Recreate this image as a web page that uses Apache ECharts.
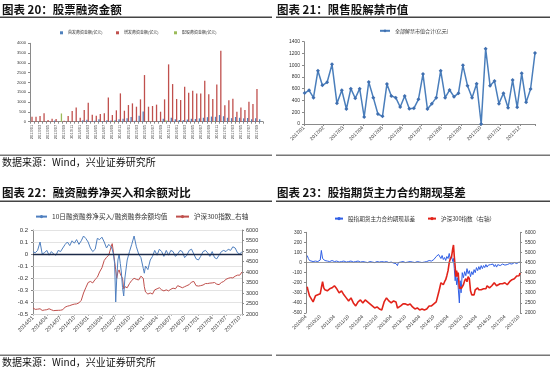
<!DOCTYPE html>
<html><head><meta charset="utf-8">
<script src="https://cdn.jsdelivr.net/npm/echarts@6/dist/echarts.min.js"></script>
<style>
html,body{margin:0;padding:0;background:#fff}
#wrap{position:relative;width:550px;height:371px}
#c{position:absolute;left:0;top:0;width:550px;height:371px}
#c21{position:absolute;left:275px;top:20px;width:275px;height:132px}
</style>
</head><body><div id="wrap"><div id="c"></div><div id="c21"></div></div>
<script>
// ---------- 图表20 股票融资金额 (monthly bars) ----------
const barCategories = ['2013/01','2013/02','2013/03','2013/04','2013/05','2013/06','2013/07','2013/08','2013/09','2013/10','2013/11','2013/12',
'2014/01','2014/02','2014/03','2014/04','2014/05','2014/06','2014/07','2014/08','2014/09','2014/10','2014/11','2014/12',
'2015/01','2015/02','2015/03','2015/04','2015/05','2015/06','2015/07','2015/08','2015/09','2015/10','2015/11','2015/12',
'2016/01','2016/02','2016/03','2016/04','2016/05','2016/06','2016/07','2016/08','2016/09','2016/10','2016/11','2016/12',
'2017/01','2017/02','2017/03','2017/04','2017/05','2017/06','2017/07','2017/08','2017/09','2017/10'];
const ipoAmount = [0,0,0,0,0,0,60,0,0,0,0,0, 20,80,100,30,50,120,30,70,60,70,130,150, 170,240,50,300,520,0,0,0,20,150,50,200, 120,90,80,110,150,140,170,200,230,260,250,340, 280,200,180,240,200,170,190,130,170,120];
const seoAmount = [255,255,290,425,85,150,135,0,50,290, 545,730,200,595,970,355,305,390,425,1240, 340,580,1445,560,850,935,765,1140,2380,765, 800,870,510,1140,2925,1920,1160,1105,1785,1480, 1580,1445,1445,2090,1395,1160,1900,3625,835,1090, 1175,510,730,595,1020,900,1665,0];
const rightsAmount = [0,0,0,0,0,0,0,420,0,0,0,0, 0,0,0,0,0,0,0,0,30,0,0,0, 0,0,0,0,0,0,0,0,0,60,0,0, 0,0,0,0,0,0,0,0,0,40,0,0, 0,0,20,0,0,0,0,0,0,0];

// ---------- 图表21 限售股解禁市值 (weekly, 2017) ----------
const unlockDates = ['2017-01-02','2017-01-09','2017-01-16','2017-01-23','2017-01-30','2017-02-06','2017-02-13','2017-02-20','2017-02-27',
'2017-03-06','2017-03-13','2017-03-20','2017-03-27','2017-04-03','2017-04-10','2017-04-17','2017-04-24','2017-05-01','2017-05-08','2017-05-15','2017-05-22','2017-05-29',
'2017-06-05','2017-06-12','2017-06-19','2017-06-26','2017-07-03','2017-07-10','2017-07-17','2017-07-24','2017-07-31','2017-08-07','2017-08-14','2017-08-21','2017-08-28',
'2017-09-04','2017-09-11','2017-09-18','2017-09-25','2017-10-02','2017-10-09','2017-10-16','2017-10-23','2017-10-30','2017-11-06','2017-11-13','2017-11-20','2017-11-27',
'2017-12-04','2017-12-11','2017-12-18','2017-12-25'];
const unlockValue = [527,573,448,907,658,709,1015,351,573,255, 601,437,601,119,714,448,170,130,680,476, 448,289,476,261,266,420,850,255,346,448, 907,448,578,465,522,998,652,448,686,0, 1281,652,731,346,522,278,748,283,862,368, 595,1207];

// ---------- 图表22 融资融券净买入和余额对比 ----------
const marginDates = ['2014-01-01','2014-01-16','2014-02-01','2014-02-16','2014-03-01','2014-03-16','2014-04-01','2014-04-16','2014-05-01','2014-05-16','2014-06-01','2014-06-16',
'2014-07-01','2014-07-16','2014-08-01','2014-08-16','2014-09-01','2014-09-16','2014-10-01','2014-10-16','2014-11-01','2014-11-16','2014-12-01','2014-12-16',
'2015-01-01','2015-01-16','2015-02-01','2015-02-16','2015-03-01','2015-03-16','2015-04-01','2015-04-16','2015-05-01','2015-05-16','2015-06-01','2015-06-08','2015-06-16','2015-06-24',
'2015-07-01','2015-07-08','2015-07-16','2015-07-24','2015-08-01','2015-08-08','2015-08-16','2015-08-24','2015-09-01','2015-09-16','2015-10-01','2015-10-16','2015-11-01','2015-11-16','2015-12-01','2015-12-16',
'2016-01-01','2016-01-08','2016-01-16','2016-02-01','2016-02-16','2016-03-01','2016-03-16','2016-04-01','2016-04-16','2016-05-01','2016-05-16','2016-06-01','2016-06-16',
'2016-07-01','2016-07-16','2016-08-01','2016-08-16','2016-09-01','2016-09-16','2016-10-01','2016-10-16','2016-11-01','2016-11-16','2016-12-01','2016-12-16',
'2017-01-01','2017-01-16','2017-02-01','2017-02-16','2017-03-01','2017-03-16','2017-04-01','2017-04-16','2017-05-01','2017-05-16','2017-06-01','2017-06-16',
'2017-07-01','2017-07-16','2017-08-01','2017-08-16','2017-09-01','2017-09-16','2017-10-01','2017-10-16'];
const marginRatio = [0.02,0.01,0.03,0.10,0.00,0.01,0.03,-0.01,0.02,0.00,-0.01,0.03,
0.02,0.05,0.08,0.10,0.07,0.11,0.09,0.12,0.08,0.11,0.15,0.13,
0.10,0.05,0.02,0.04,0.13,0.12,0.14,0.10,0.05,0.08,0.06,0.04,0.00,-0.08,
-0.40,-0.20,-0.05,0.00,-0.08,-0.15,-0.28,-0.35,-0.20,-0.05,0.02,0.08,0.15,0.06,0.00,-0.03,
-0.12,-0.16,-0.10,-0.13,-0.05,-0.02,0.03,-0.01,0.04,0.02,-0.02,0.03,-0.01,
0.03,0.02,-0.02,0.00,0.03,0.02,-0.03,-0.01,0.03,0.04,0.00,-0.04,
-0.05,-0.02,0.02,0.03,0.01,-0.02,0.02,-0.03,-0.04,-0.01,0.02,0.03,
0.02,0.04,0.03,0.06,0.05,0.01,0.00,0.02];
const csi300A = [2290,2220,2230,2250,2170,2190,2205,2250,2200,2160,2170,2175,
2180,2205,2330,2370,2400,2440,2470,2480,2530,2650,3000,3250,
3500,3550,3480,3650,3750,4000,4200,4550,4700,4800,5200,5350,4950,4500,
4100,3700,4000,4100,3900,3950,3700,3200,3300,3250,3450,3600,3700,3650,3620,3800,
3700,3300,3050,2950,3000,2950,3150,3200,3250,3150,3100,3150,3100,
3180,3230,3200,3350,3300,3250,3300,3350,3400,3520,3550,3350,
3330,3350,3380,3450,3450,3470,3480,3500,3420,3400,3500,3550,
3650,3700,3730,3720,3800,3850,3850,4000];

// ---------- 图表23 股指期货主力合约期现基差 ----------
const basisDates = ['2010-04-16','2010-05-01','2010-05-16','2010-06-01','2010-07-01','2010-08-01','2010-09-01','2010-10-01','2010-10-16','2010-11-01','2010-11-16','2010-12-01',
'2011-01-01','2011-02-01','2011-03-01','2011-04-01','2011-05-01','2011-06-01','2011-07-01','2011-08-01','2011-09-01','2011-10-01','2011-11-01','2011-12-01',
'2012-01-01','2012-02-01','2012-03-01','2012-04-01','2012-05-01','2012-06-01','2012-07-01','2012-08-01','2012-09-01','2012-10-01','2012-11-01','2012-12-01',
'2013-01-01','2013-02-01','2013-03-01','2013-04-01','2013-05-01','2013-06-01','2013-06-20','2013-07-01','2013-08-01','2013-09-01','2013-10-01','2013-11-01','2013-12-01',
'2014-01-01','2014-02-01','2014-03-01','2014-04-01','2014-05-01','2014-06-01','2014-07-01','2014-08-01','2014-09-01','2014-10-01','2014-11-01','2014-12-01',
'2015-01-01','2015-01-16','2015-02-01','2015-02-16','2015-03-01','2015-03-16','2015-04-01','2015-04-16','2015-05-01','2015-05-16','2015-06-01','2015-06-10','2015-06-20',
'2015-07-01','2015-07-10','2015-07-20','2015-08-01','2015-08-10','2015-08-25','2015-09-05','2015-09-16','2015-10-01','2015-10-16','2015-11-01','2015-11-16','2015-12-01','2015-12-16',
'2016-01-01','2016-01-16','2016-02-01','2016-02-16','2016-03-01','2016-03-16','2016-04-01','2016-04-16','2016-05-01','2016-05-16','2016-06-01','2016-06-16',
'2016-07-01','2016-07-16','2016-08-01','2016-08-16','2016-09-01','2016-09-16','2016-10-01','2016-10-16','2016-11-01','2016-11-16','2016-12-01','2016-12-16',
'2017-01-01','2017-02-01','2017-03-01','2017-04-01','2017-05-01','2017-06-01','2017-07-01','2017-08-01','2017-09-01','2017-10-01','2017-10-13'];
const basisValue = [70,40,20,15,10,15,10,25,120,40,30,20,
15,10,20,10,15,5,10,15,5,10,15,5,
10,15,5,10,5,0,10,5,0,10,5,10,
5,10,0,5,-5,-10,-30,0,5,10,0,5,10,
5,0,10,5,0,5,10,20,15,30,60,80,
40,70,30,50,20,60,40,90,30,60,10,40,-60,
-180,-120,-220,-150,-250,-400,-180,-300,-100,-150,-90,-130,-60,-110,
-80,-140,-90,-120,-70,-100,-50,-80,-40,-70,-30,-60,
-30,-50,-20,-45,-25,-40,-20,-35,-15,-40,-20,-45,
-20,-30,-15,-25,-20,-10,-15,0,-10,5,0];
const csi300B = [3300,3050,2850,2750,2550,2850,2900,2950,3250,3550,3250,3150,
3100,3200,3250,3350,3200,3000,3100,2900,2750,2600,2750,2500,
2350,2550,2650,2500,2650,2550,2450,2350,2250,2300,2200,2150,
2550,2750,2600,2500,2600,2550,2250,2250,2350,2450,2450,2400,2450,
2300,2200,2250,2150,2200,2150,2200,2350,2350,2450,2550,3000,
3500,3450,3400,3550,3650,3850,4100,4500,4700,4800,5200,5370,4800,
4300,3800,4100,3800,4000,3200,3300,3200,3150,3400,3600,3700,3550,3800,
3700,3100,2900,2950,2900,3150,3200,3250,3150,3100,3150,3100,
3200,3250,3200,3350,3300,3250,3300,3350,3400,3500,3550,3350,
3350,3450,3450,3500,3400,3550,3650,3700,3830,3850,3980];

// ---------- helpers ----------
const LAT = '"Liberation Sans", Arial, sans-serif';
const CJK = '"Noto Sans CJK SC", sans-serif';
const GRAY = '#8a8a8a';
function monthPos(s, y0, m0) {
  const p = s.split('-').map(Number);
  const dim = new Date(p[0], p[1], 0).getDate();
  return (p[0] - y0) * 12 + (p[1] - m0) + (p[2] - 1) / dim;
}
function monthLabel(y0, m0, step) {
  return function (v) {
    const r = Math.round(v);
    if (Math.abs(v - r) > 1e-6 || r % step !== 0) return '';
    const t = r + m0 - 1;
    const y = y0 + Math.floor(t / 12), mo = t % 12 + 1;
    return y + '/' + (mo < 10 ? '0' : '') + mo;
  };
}
function pairs(dates, vals, y0, m0) { return dates.map((d, i) => [monthPos(d, y0, m0), vals[i]]); }
const plain = v => String(Math.round(v));

function yAx(grid, min, max, interval, pos, size, margin, fmt) {
  return {
    type: 'value', gridIndex: grid, min: min, max: max, interval: interval, position: pos,
    splitLine: { show: false }, splitArea: { show: false },
    axisLine: { show: true, onZero: false, lineStyle: { color: GRAY, width: 1 } },
    axisTick: { show: true, length: 2, lineStyle: { color: GRAY } },
    axisLabel: { fontSize: size, color: '#333', fontFamily: LAT, margin: margin, hideOverlap: false,
      formatter: fmt || plain }
  };
}
function xVal(grid, max, interval, fmt, size, lineColor) {
  return {
    type: 'value', gridIndex: grid, min: 0, max: max, interval: interval,
    splitLine: { show: false }, splitArea: { show: false },
    axisLine: { show: !!lineColor, onZero: false, lineStyle: { color: lineColor || GRAY } },
    axisTick: { show: !!lineColor, length: 2, lineStyle: { color: lineColor || GRAY } },
    axisLabel: { rotate: 45, fontSize: size, color: '#333', fontFamily: LAT, margin: 3, formatter: fmt, hideOverlap: false }
  };
}
function legend(left, top, w, h, name, size, icon) {
  const l = { left: left, top: top, itemWidth: w, itemHeight: h, padding: 0, data: [name],
    textStyle: { fontSize: size, color: '#333', fontFamily: CJK }, selectedMode: false };
  if (icon) l.icon = icon;
  return l;
}

const c21Max = monthPos(unlockDates[unlockDates.length - 1], 2017, 1);
const c22Max = monthPos(marginDates[marginDates.length - 1], 2014, 1);
const c23Max = monthPos(basisDates[basisDates.length - 1], 2010, 4);

// chart 22 horizontal gridlines at the left-axis ticks (-0.5 … 0.2, step 0.1)
const c22GridLines = [];
for (let k = -5; k <= 2; k++) {
  if (k === 0) continue;
  c22GridLines.push({ yAxis: k / 10 });
}

// ===== main instance: charts 20, 22, 23 + titles/rules =====
const chart = echarts.init(document.getElementById('c'), null, { renderer: 'canvas' });
chart.setOption({
  animation: false,
  backgroundColor: '#fff',
  grid: [
    { left: 30, top: 43.3, width: 233, height: 78.4, outerBoundsMode: 'none' },
    { left: 33, top: 230, width: 209, height: 84, outerBoundsMode: 'none' },
    { left: 306, top: 232.3, width: 214, height: 80.7, outerBoundsMode: 'none' }
  ],
  legend: [
    legend(60, 30.8, 3, 3, '首发募资金额(亿元)', 4, 'rect'),
    legend(116, 30.8, 3, 3, '增发募资金额(亿元)', 4, 'rect'),
    legend(174, 30.8, 3, 3, '配股募资金额(亿元)', 4, 'rect'),
    legend(35, 213.3, 11, 4, '10日融资融券净买入/融资融券余额均值', 6.6),
    legend(175, 213.3, 13, 4, '沪深300指数_右轴', 6.6),
    legend(334, 215.8, 8, 4, '股指期货主力合约期现基差', 5.6),
    legend(427, 215.8, 8, 4, '沪深300指数（右轴）', 5.6)
  ],
  xAxis: [
    { type: 'category', gridIndex: 0, data: barCategories,
      splitLine: { show: false },
      axisLine: { lineStyle: { color: GRAY } },
      axisTick: { show: true, length: 2, interval: 0, lineStyle: { color: GRAY } },
      axisLabel: { rotate: 90, interval: 1, fontSize: 4, color: '#444', fontFamily: LAT, margin: 3, hideOverlap: false } },
    xVal(1, c22Max, 3, monthLabel(2014, 1, 3), 5.5, '#bbb'),
    xVal(2, c23Max, 6, monthLabel(2010, 4, 6), 5, null)
  ],
  yAxis: [
    yAx(0, 0, 4000, 500, 'left', 4, 4),
    yAx(1, -0.5, 0.2, 0.1, 'left', 6, 5, v => Math.abs(v) < 1e-9 ? '0' : v.toFixed(1)),
    yAx(1, 2000, 6000, 500, 'right', 5.5, 4),
    yAx(2, -500, 300, 100, 'left', 4.8, 4),
    yAx(2, 2000, 6000, 500, 'right', 4.8, 5)
  ],
  series: [
    { name: '首发募资金额(亿元)', type: 'bar', xAxisIndex: 0, yAxisIndex: 0, data: ipoAmount,
      barWidth: 1.3, barGap: '0%', itemStyle: { color: '#4f81bd' } },
    { name: '增发募资金额(亿元)', type: 'bar', xAxisIndex: 0, yAxisIndex: 0, data: seoAmount,
      barWidth: 1.3, barGap: '0%', itemStyle: { color: '#c0504d' } },
    { name: '配股募资金额(亿元)', type: 'bar', xAxisIndex: 0, yAxisIndex: 0, data: rightsAmount,
      barWidth: 1.3, barGap: '0%', itemStyle: { color: '#9bbb59' } },
    { name: 'grid22', type: 'line', xAxisIndex: 1, yAxisIndex: 1, data: [], z: 1, silent: true,
      markLine: { silent: true, symbol: 'none', label: { show: false }, z: 1,
        lineStyle: { color: '#dcdcdc', width: 0.8, type: 'solid' }, data: c22GridLines } },
    { name: '沪深300指数_右轴', type: 'line', xAxisIndex: 1, yAxisIndex: 2,
      data: pairs(marginDates, csi300A, 2014, 1), symbol: 'none',
      itemStyle: { color: '#c0504d' }, lineStyle: { color: '#c0504d', width: 1 } },
    { name: '10日融资融券净买入/融资融券余额均值', type: 'line', xAxisIndex: 1, yAxisIndex: 1,
      data: pairs(marginDates, marginRatio, 2014, 1), symbol: 'none',
      itemStyle: { color: '#4f7fbf' }, lineStyle: { color: '#4f7fbf', width: 1 },
      markLine: { silent: true, symbol: 'none', label: { show: false },
        lineStyle: { color: '#1c2a48', width: 1.4, type: 'solid' }, data: [{ yAxis: 0 }] } },
    { name: '股指期货主力合约期现基差', type: 'line', xAxisIndex: 2, yAxisIndex: 3,
      data: pairs(basisDates, basisValue, 2010, 4), symbol: 'none',
      itemStyle: { color: '#2f5fe6' }, lineStyle: { color: '#2f5fe6', width: 1 },
      markLine: { silent: true, symbol: 'none', label: { show: false },
        lineStyle: { color: '#888', width: 0.8, type: 'solid' }, data: [{ yAxis: 0 }] } },
    { name: '沪深300指数（右轴）', type: 'line', xAxisIndex: 2, yAxisIndex: 4,
      data: pairs(basisDates, csi300B, 2010, 4), symbol: 'none',
      itemStyle: { color: '#e2231a' }, lineStyle: { color: '#e2231a', width: 1.6 } }
  ],
  graphic: [
    { type: 'text', x: 2, y: 10, style: { text: '图表 20：股票融资金额', font: 'bold 11.5px "Noto Sans CJK SC"', fill: '#111', verticalAlign: 'middle' } },
    { type: 'text', x: 277, y: 10, style: { text: '图表 21：限售股解禁市值', font: 'bold 11.5px "Noto Sans CJK SC"', fill: '#111', verticalAlign: 'middle' } },
    { type: 'text', x: 2, y: 193, style: { text: '图表 22：融资融券净买入和余额对比', font: 'bold 11.5px "Noto Sans CJK SC"', fill: '#111', verticalAlign: 'middle' } },
    { type: 'text', x: 277, y: 193, style: { text: '图表 23：股指期货主力合约期现基差', font: 'bold 11.5px "Noto Sans CJK SC"', fill: '#111', verticalAlign: 'middle' } },
    { type: 'rect', shape: { x: 0, y: 16.5, width: 272, height: 1.5 }, style: { fill: '#444' } },
    { type: 'rect', shape: { x: 276, y: 16.5, width: 274, height: 1.5 }, style: { fill: '#444' } },
    { type: 'rect', shape: { x: 0, y: 154.5, width: 272, height: 1.5 }, style: { fill: '#777' } },
    { type: 'rect', shape: { x: 276, y: 154.5, width: 274, height: 1.5 }, style: { fill: '#777' } },
    { type: 'rect', shape: { x: 0, y: 200.5, width: 272, height: 1.5 }, style: { fill: '#444' } },
    { type: 'rect', shape: { x: 276, y: 200.5, width: 274, height: 1.5 }, style: { fill: '#444' } },
    { type: 'rect', shape: { x: 0, y: 354.5, width: 272, height: 1.5 }, style: { fill: '#777' } },
    { type: 'rect', shape: { x: 276, y: 354.5, width: 274, height: 1.5 }, style: { fill: '#777' } },
    { type: 'text', x: 2, y: 162.5, style: { text: '数据来源：Wind，兴业证券研究所', font: '10px "Noto Sans CJK SC"', fill: '#111', verticalAlign: 'middle' } },
    { type: 'text', x: 2, y: 362.5, style: { text: '数据来源：Wind，兴业证券研究所', font: '10px "Noto Sans CJK SC"', fill: '#111', verticalAlign: 'middle' } }
  ]
});

// ===== separate instance for 图表21 (placed at x=275, y=20 of the page) =====
const chart21 = echarts.init(document.getElementById('c21'), null, { renderer: 'canvas' });
chart21.setOption({
  animation: false,
  backgroundColor: 'transparent',
  grid: [{ left: 29, top: 21.7, width: 231, height: 82.3, outerBoundsMode: 'none' }],
  legend: [legend(104, 8.3, 10, 4, '全部解禁市值合计(亿元)', 5)],
  xAxis: [xVal(0, c21Max, 1, monthLabel(2017, 1, 1), 5, GRAY)],
  yAxis: [yAx(0, 0, 1400, 200, 'left', 5, 4)],
  series: [
    { name: '全部解禁市值合计(亿元)', type: 'line', xAxisIndex: 0, yAxisIndex: 0,
      data: pairs(unlockDates, unlockValue, 2017, 1),
      symbol: 'diamond', symbolSize: 4, itemStyle: { color: '#3f6fb0' },
      lineStyle: { color: '#4a7ebb', width: 1.5 } }
  ]
});
</script>
</body></html>
